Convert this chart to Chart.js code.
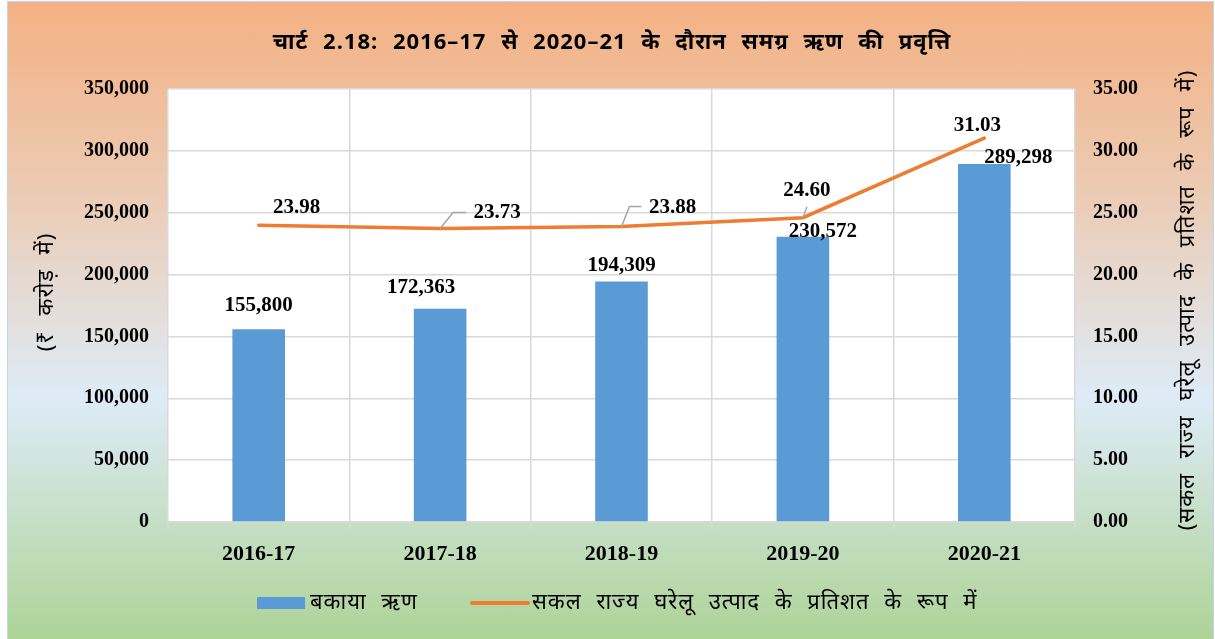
<!DOCTYPE html>
<html>
<head>
<meta charset="utf-8">
<script src="https://cdn.jsdelivr.net/npm/chart.js@4.4.1/dist/chart.umd.min.js"></script>
<style>
  html, body { margin: 0; padding: 0; background: #fff; overflow: hidden; }
  #frame {
    position: absolute; left: 7px; top: 1px; width: 1205px; height: 660px;
    border: 1px solid #BDD7EE;
    background: linear-gradient(to bottom, #F4B183 0%, #ECCAB2 28%, #DEEBF7 60%, #A9D18E 100%);
  }
  #wrap { position: absolute; left: 0; top: 0; width: 1215px; height: 639px; }
</style>
</head>
<body>
<div id="frame"></div>
<div id="wrap"><canvas id="chart" width="1215" height="639"></canvas></div>
<script>
// données
const years = ['2016-17', '2017-18', '2018-19', '2019-20', '2020-21'];
const outstandingDebt = [155800, 172363, 194309, 230572, 289298];
const debtToGsdp = [23.98, 23.73, 23.88, 24.60, 31.03];

const chartTitle = 'चार्ट 2.18: 2016–17 से 2020–21 के दौरान समग्र ऋण की प्रवृत्ति';
const leftAxisTitle = '(₹ करोड़ में)';
const rightAxisTitle = '(सकल राज्य घरेलू उत्पाद के प्रतिशत के रूप में)';
const debtLabel = 'बकाया ऋण';
const ratioLabel = 'सकल राज्य घरेलू उत्पाद के प्रतिशत के रूप में';

// label placement (Excel moved some labels by hand)
const barLabelShift = [[0, -24], [-19, -21], [0, -16], [20, -5], [34, -7]];
const lineLabelShift = [[38, -18], [57, -16], [51, -19], [4, -27], [-7, -13]];
const leaderLines = [null, [[13, -16], [26, -16]], [[8, -20], [20, -20]], [[4, -11]], null];

const BLUE = '#5B9BD5';
const ORANGE = '#ED7D31';
const GRID = '#D9D9D9';
const SERIF = '"Liberation Serif", "Times New Roman", serif';
const HINDI = '"Noto Sans", "Noto Sans Devanagari", "Lohit Devanagari", sans-serif';

const fmtInt = v => Number(v).toLocaleString('en-US');

// Hindi text in the original is set much looser than our fallback font
function hindiText(ctx, txt, x, y, size, bold) {
  ctx.font = (bold ? 'bold ' : '') + size + 'px ' + HINDI;
  ctx.letterSpacing = '1px';
  ctx.wordSpacing = '8px';
  ctx.fillText(txt, x, y);
  ctx.letterSpacing = '0px';
  ctx.wordSpacing = '0px';
}

const overlayPlugin = {
  id: 'overlay',
  afterDatasetsDraw(chart) {
    const ctx = chart.ctx;
    ctx.save();
    ctx.fillStyle = '#000';
    ctx.textAlign = 'center';
    ctx.textBaseline = 'middle';

    // étiquettes des barres
    ctx.font = 'bold 21px ' + SERIF;
    chart.getDatasetMeta(0).data.forEach((bar, i) => {
      const [dx, dy] = barLabelShift[i];
      ctx.fillText(fmtInt(outstandingDebt[i]), bar.x + dx, bar.y + dy);
    });

    // étiquettes de la ligne + lignes de rappel
    chart.getDatasetMeta(1).data.forEach((pt, i) => {
      const lead = leaderLines[i];
      if (lead) {
        ctx.strokeStyle = '#A6A6A6';
        ctx.lineWidth = 1.5;
        ctx.beginPath();
        ctx.moveTo(pt.x, pt.y);
        lead.forEach(([lx, ly]) => ctx.lineTo(pt.x + lx, pt.y + ly));
        ctx.stroke();
      }
      const [dx, dy] = lineLabelShift[i];
      ctx.font = 'bold 21px ' + SERIF;
      ctx.fillText(debtToGsdp[i].toFixed(2), pt.x + dx, pt.y + dy);
    });
    ctx.restore();
  },
  afterDraw(chart) {
    const ctx = chart.ctx;
    ctx.save();
    ctx.fillStyle = '#000';
    ctx.textAlign = 'center';
    ctx.textBaseline = 'middle';

    // titre
    hindiText(ctx, chartTitle, 612, 43, 22, true);

    // titres des axes (les deux se lisent de bas en haut)
    ctx.save();
    ctx.translate(47, 292);
    ctx.rotate(-Math.PI / 2);
    hindiText(ctx, leftAxisTitle, 0, 0, 22, false);
    ctx.restore();
    ctx.save();
    ctx.translate(1188, 300);
    ctx.rotate(-Math.PI / 2);
    hindiText(ctx, rightAxisTitle, 0, 0, 22, false);
    ctx.restore();

    // légende
    const ly = 603;
    ctx.textAlign = 'left';
    ctx.fillStyle = BLUE;
    ctx.fillRect(257, ly - 6, 48, 12);
    ctx.fillStyle = '#000';
    hindiText(ctx, debtLabel, 310, ly, 22, false);
    ctx.strokeStyle = ORANGE;
    ctx.lineWidth = 4;
    ctx.lineCap = 'round';
    ctx.beginPath();
    ctx.moveTo(472, ly);
    ctx.lineTo(528, ly);
    ctx.stroke();
    hindiText(ctx, ratioLabel, 532, ly, 22, false);
    ctx.restore();
  }
};

const plotBg = {
  id: 'plotBg',
  beforeDraw(chart) {
    const { ctx, chartArea: a } = chart;
    ctx.save();
    ctx.fillStyle = '#fff';
    ctx.fillRect(a.left, a.top, a.right - a.left, a.bottom - a.top);
    ctx.restore();
  }
};

new Chart(document.getElementById('chart'), {
  data: {
    labels: years,
    datasets: [
      {
        type: 'bar',
        label: debtLabel,
        data: outstandingDebt,
        backgroundColor: BLUE,
        yAxisID: 'y',
        barPercentage: 0.29,
        categoryPercentage: 1.0,
        order: 2
      },
      {
        type: 'line',
        label: ratioLabel,
        data: debtToGsdp,
        borderColor: ORANGE,
        borderWidth: 3.5,
        borderCapStyle: 'round',
        pointRadius: 0,
        tension: 0,
        yAxisID: 'y1',
        order: 1
      }
    ]
  },
  options: {
    responsive: false,
    animation: false,
    layout: { padding: { top: 89, left: 0, right: 0, bottom: 0 } },
    plugins: {
      legend: { display: false },
      tooltip: { enabled: false },
      title: { display: false }
    },
    scales: {
      x: {
        grid: { color: GRID, lineWidth: 1.5, offset: true, drawTicks: true, tickLength: 7, tickColor: GRID },
        border: { display: false },
        ticks: { color: '#000', font: { family: SERIF, size: 22, weight: 'bold' }, padding: 12 },
        afterFit(s) { s.height = 117; }
      },
      y: {
        position: 'left',
        min: 0,
        max: 350000,
        ticks: {
          stepSize: 50000,
          color: '#000',
          padding: 19,
          font: { family: SERIF, size: 20, weight: 'bold' },
          callback: v => fmtInt(v)
        },
        grid: { color: GRID, lineWidth: 1.5, drawTicks: false },
        border: { display: false },
        afterFit(s) { s.width = 168; }
      },
      y1: {
        position: 'right',
        min: 0,
        max: 35,
        ticks: {
          stepSize: 5,
          color: '#000',
          padding: 18,
          font: { family: SERIF, size: 20, weight: 'bold' },
          callback: v => Number(v).toFixed(2)
        },
        grid: { display: false, drawTicks: false },
        border: { display: false },
        afterFit(s) { s.width = 140; }
      }
    }
  },
  plugins: [plotBg, overlayPlugin]
});
</script>
</body>
</html>
